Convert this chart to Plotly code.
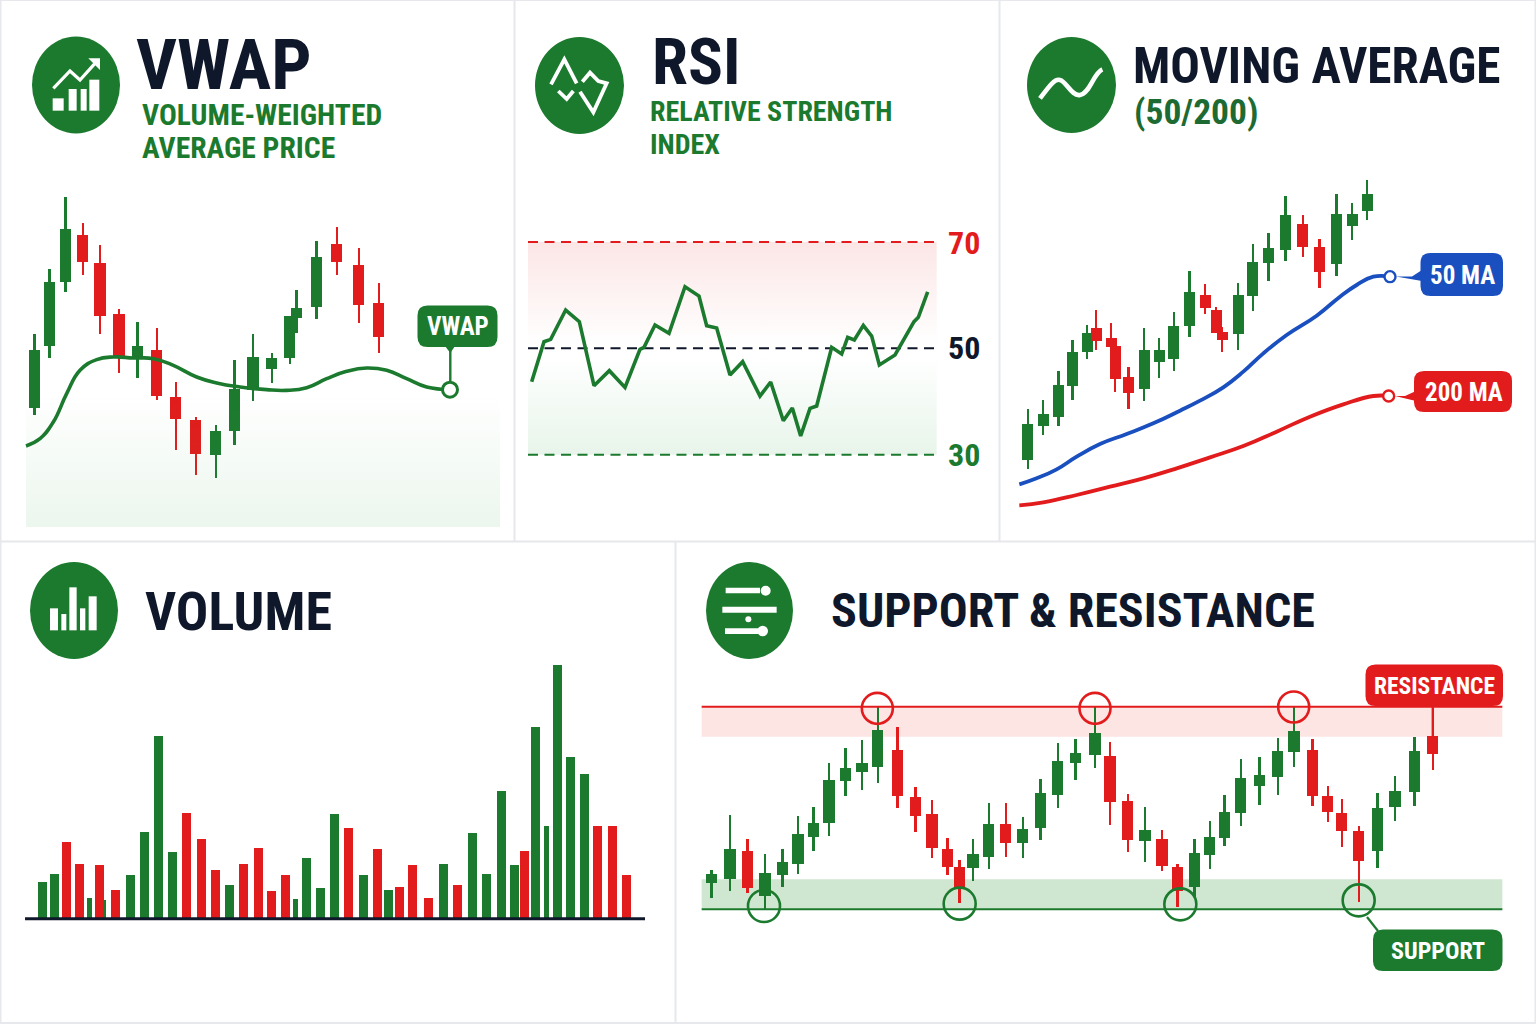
import plotly.graph_objects as go

# ---------- DATA ----------
# VWAP panel
vwap_t = [103,148,196,248,300,357,412,470,527,587,647,703,759,815,869,889,949,1010,1076,1136]
vwap_open = [357,543,735,876,793,638,510,531,390,320,215,287,412,473,507,627,659,848,787,672]
vwap_high = [578,773,990,912,845,655,615,597,434,330,307,502,580,523,633,710,858,901,837,733]
vwap_low = [337,508,705,755,580,463,448,380,230,156,147,245,378,433,488,582,623,757,612,523]
vwap_close = [530,734,894,795,633,510,542,393,325,220,288,413,511,506,633,658,811,796,665,570]
vwap_line_t = [78,120,160,200,240,290,340,400,460,520,590,650,720,800,860,920,980,1040,1100,1160,1220,1280,1350]
vwap_line = [243,265,315,400,470,502,510,507,505,485,450,432,420,412,410,418,445,467,477,470,445,420,412]

# RSI panel
rsi_t = [35,72,92,137,178,222,268,315,360,372,405,447,495,537,560,590,630,668,720,752,790,817,842,870,890,935,965,983,1003,1030,1055,1078,1125,1182,1195,1223]
rsi_val = [43.73,51.25,51.69,57.21,55.02,42.98,45.80,42.66,49.81,50.19,54.39,52.82,61.60,59.84,54.26,53.82,44.98,47.49,41.03,43.67,36.39,38.78,33.51,38.71,39.15,50.19,48.93,52.07,51.57,54.33,52.32,46.87,48.75,55.02,55.83,60.60]
rsi_levels = [70, 50, 30]

# Moving-average panel
ma_t = [53,99,145,187,231,258,303,315,355,402,447,491,538,585,618,636,684,728,775,826,878,928,979,1026,1071]
ma_open = [180,281,310,402,504,575,547,523,428,392,475,483,583,675,630,565,559,673,771,810,887,820,769,881,927]
ma_high = [332,360,447,539,585,630,590,523,460,575,545,625,748,708,638,580,710,828,860,973,914,843,978,951,1020]
ma_low = [154,254,282,360,482,509,520,385,332,358,427,446,548,619,561,505,511,628,717,778,790,695,733,841,901]
ma_close = [287,317,406,505,561,537,520,423,381,511,510,583,685,637,561,540,674,774,817,916,820,745,917,919,977]
ma50_t = [28,80,140,200,270,350,430,510,570,640,700,760,830,920,990,1040,1090,1140]
ma50 = [107,125,152,190,228,258,290,328,358,398,445,500,555,613,670,705,730,730]
ma200_t = [28,100,200,300,400,500,600,700,800,900,1000,1090,1136]
ma200 = [44,53,75,100,125,155,188,222,265,310,347,372,372]

# Volume panel
vol_t = [58,86,116,148,172,197,209,235,272,306,341,376,410,447,481,516,550,585,619,653,676,703,738,772,806,842,877,905,930,963,1001,1039,1074,1109,1144,1180,1212,1238,1265,1291,1317,1350,1383,1416,1452,1486]
vol_val = [110,134,229,163,63,161,56,87,132,259,547,201,317,239,145,101,163,212,83,132,58,183,92,315,271,132,210,86,96,162,62,163,101,257,135,384,161,203,574,278,760,484,435,277,277,132]
vol_side = list("GGRRGRGRGGGGRRRGRRRRGGGGRGRGRRRGRGGGGRGGGGGRRR")

# Support & resistance panel
sr_t = [64,120,172,225,277,324,370,417,466,516,563,622,676,726,772,808,849,896,947,998,1051,1103,1156,1215,1260,1313,1365,1416,1462,1513,1559,1603,1652,1708,1763,1812,1867,1913,1955,2006,2062,2115,2173,2228]
sr_open = [292,302,386,253,315,348,430,471,598,625,639,691,549,498,394,338,336,370,469,411,457,556,650,675,671,536,417,423,338,280,376,425,500,583,608,685,689,551,502,447,386,520,564,732]
sr_high = [330,495,423,377,394,493,519,650,695,720,820,760,580,540,427,360,424,532,532,490,602,710,722,820,713,559,520,450,348,423,477,556,662,668,725,820,723,583,543,463,560,613,730,815]
sr_low = [245,268,262,210,280,317,387,432,552,570,592,515,445,367,315,230,297,332,370,367,420,517,600,635,464,383,353,328,218,250,332,403,463,524,555,640,523,473,398,235,335,478,523,630]
sr_close = [319,393,275,320,353,438,471,600,637,652,750,551,493,395,340,275,377,469,411,452,560,657,680,742,533,419,449,342,268,381,428,505,606,614,688,747,552,504,447,357,517,566,687,679]
sr_resistance = 820
sr_support = 212
sr_band = 90
res_touch_t = [562,1215,1811]
res_touch = [815,815,819]
sup_touch_t = [222,809,1471,2006]
sup_touch = [222,229,227,239]

# ---------- STYLE ----------
W, H = 1536, 1024
GREEN = "#1b7a2e"
RED = "#e21b1c"
BLUE = "#1a4fc0"
NAVY = "#0f172a"
BORDER = "#e6e8ec"
NARROW = "'Roboto Condensed', Roboto, sans-serif"

def fx(x): return x / W
def fy(y): return 1 - y / H

fig = go.Figure()
shapes, annots = [], []

# panel number: (px left, px right, px top, px bottom, x range, y range)
panels = {
    1: (0, 510, 180, 527, [0, 1530], [0, 1041]),
    2: (520, 990, 230, 470, [0, 1410], [27.12, 72.26]),
    3: (1010, 1520, 170, 520, [0, 1530], [0, 1050]),
    4: (18.9, 658.9, 660, 930, [0, 1566], [-34, 776]),
    5: (690, 1520, 660, 980, [0, 2490], [0, 960]),
}
for i, (l, r, t, b, xr, yr) in panels.items():
    s = "" if i == 1 else str(i)
    fig.update_layout({
        f"xaxis{s}": dict(domain=[fx(l), fx(r)], range=xr, visible=False, fixedrange=True, anchor=f"y{s}"),
        f"yaxis{s}": dict(domain=[fy(b), fy(t)], range=yr, visible=False, fixedrange=True, anchor=f"x{s}"),
    })

def ax(i):
    return ("x", "y") if i == 1 else (f"x{i}", f"y{i}")

def candles(i, t, o, h, l, c, body=33, wick=7):
    xa, ya = ax(i)
    colors = [GREEN if cc >= oo else RED for oo, cc in zip(o, c)]
    fig.add_trace(go.Bar(x=t, y=[a - b for a, b in zip(h, l)], base=l, width=wick,
                         marker=dict(color=colors, line=dict(width=0)), xaxis=xa, yaxis=ya, showlegend=False))
    fig.add_trace(go.Bar(x=t, y=[abs(a - b) for a, b in zip(o, c)], base=[min(a, b) for a, b in zip(o, c)], width=body,
                         marker=dict(color=colors, line=dict(width=0)), xaxis=xa, yaxis=ya, showlegend=False))

def end_marker(i, t, v, color, size, lw):
    xa, ya = ax(i)
    fig.add_trace(go.Scatter(x=[t], y=[v], mode="markers", xaxis=xa, yaxis=ya, showlegend=False,
                             marker=dict(size=size, color="white", line=dict(color=color, width=lw))))

def rrect(x0, y0, x1, y1, color, rad=9):
    d = (f"M{fx(x0+rad)},{fy(y0)} L{fx(x1-rad)},{fy(y0)} Q{fx(x1)},{fy(y0)} {fx(x1)},{fy(y0+rad)} "
         f"L{fx(x1)},{fy(y1-rad)} Q{fx(x1)},{fy(y1)} {fx(x1-rad)},{fy(y1)} L{fx(x0+rad)},{fy(y1)} "
         f"Q{fx(x0)},{fy(y1)} {fx(x0)},{fy(y1-rad)} L{fx(x0)},{fy(y0+rad)} Q{fx(x0)},{fy(y0)} {fx(x0+rad)},{fy(y0)} Z")
    shapes.append(dict(type="path", xref="paper", yref="paper", path=d, fillcolor=color, line=dict(width=0), layer="above"))

def poly(pts, color, width=0, closed=False, fill=None):
    d = "M" + " L".join(f"{fx(a)},{fy(b)}" for a, b in pts) + (" Z" if closed else "")
    shapes.append(dict(type="path", xref="paper", yref="paper", path=d, fillcolor=fill or "rgba(0,0,0,0)",
                       line=dict(color=color, width=width), layer="above"))

def box(x0, y0, x1, y1, color="white"):
    shapes.append(dict(type="rect", xref="paper", yref="paper", x0=fx(x0), x1=fx(x1), y0=fy(y0), y1=fy(y1),
                       fillcolor=color, line=dict(width=0), layer="above"))

def disc(cx, cy, rx, ry, color="white"):
    shapes.append(dict(type="circle", xref="paper", yref="paper", x0=fx(cx-rx), x1=fx(cx+rx), y0=fy(cy+ry), y1=fy(cy-ry),
                       fillcolor=color, line=dict(width=0), layer="above"))

def text(s, x, y, size, color=NAVY, family=NARROW, anchor="left", weight=700):
    annots.append(dict(text=s, x=fx(x), y=fy(y), xref="paper", yref="paper", xanchor=anchor, yanchor="middle",
                       showarrow=False, font=dict(family=family, size=size, color=color, weight=weight)))

def grad_fill(i, xs, ys, c0, c1, lo, hi):
    xa, ya = ax(i)
    fig.add_trace(go.Scatter(x=xs, y=ys, mode="lines", line=dict(width=0), fill="toself",
                             fillgradient=dict(type="vertical", start=lo, stop=hi, colorscale=[[0, c0], [1, c1]]),
                             xaxis=xa, yaxis=ya, showlegend=False, hoverinfo="skip"))

# ---------- borders ----------
for x0, y0, x1, y1 in [(0,0,1536,0),(0,541.5,1536,541.5),(514.5,0,514.5,541),(999.5,0,999.5,541),(675.5,542,675.5,1024),(0,1023,1536,1023),(0.5,0,0.5,1024),(1535.5,0,1535.5,1024)]:
    shapes.append(dict(type="line", xref="paper", yref="paper", x0=fx(x0), x1=fx(x1), y0=fy(y0), y1=fy(y1),
                       line=dict(color=BORDER, width=2), layer="below"))

# ---------- VWAP panel ----------
grad_fill(1, [78,1500,1500,78], [0,0,400,400], "rgba(60,170,80,0.10)", "rgba(60,170,80,0)", 0, 400)
candles(1, vwap_t, vwap_open, vwap_high, vwap_low, vwap_close, body=34)
fig.add_trace(go.Scatter(x=vwap_line_t, y=vwap_line, mode="lines", line=dict(color=GREEN, width=3.6, shape="spline", smoothing=1.3), showlegend=False))
poly([(450.3,346),(450.3,381)], GREEN, 2.4)
poly([(445,346),(455,346),(450.3,353)], GREEN, 0, True, GREEN)
end_marker(1, vwap_line_t[-1], vwap_line[-1], GREEN, 15, 3)
rrect(417.5,305.5,497.5,347, GREEN, 10)
text("VWAP", 457.5, 326.5, 25, "white", anchor="center")

# ---------- RSI panel ----------
grad_fill(2, [24,1250,1250,24], [70,70,50.5,50.5], "rgba(226,27,28,0)", "rgba(226,27,28,0.11)", 50.5, 70)
grad_fill(2, [24,1250,1250,24], [48.5,48.5,30,30], "rgba(60,170,80,0.12)", "rgba(60,170,80,0)", 30, 48.5)
for lv, col in zip(rsi_levels, [RED, NAVY, GREEN]):
    fig.add_trace(go.Scatter(x=[24,1250], y=[lv,lv], mode="lines", xaxis="x2", yaxis="y2",
                             line=dict(color=col, width=2, dash="10px,6.5px"), showlegend=False))
fig.add_trace(go.Scatter(x=rsi_t, y=rsi_val, mode="lines", xaxis="x2", yaxis="y2",
                         line=dict(color=GREEN, width=3.6), showlegend=False))
text(str(rsi_levels[0]), 945.5, 243, 32, RED)
text(str(rsi_levels[1]), 945.5, 348, 32, NAVY)
text(str(rsi_levels[2]), 945.5, 455, 32, GREEN)

# ---------- Moving-average panel ----------
candles(3, ma_t, ma_open, ma_high, ma_low, ma_close)
fig.add_trace(go.Scatter(x=ma50_t, y=ma50, mode="lines", xaxis="x3", yaxis="y3",
                         line=dict(color=BLUE, width=3.8, shape="spline", smoothing=1.3), showlegend=False))
fig.add_trace(go.Scatter(x=ma200_t, y=ma200, mode="lines", xaxis="x3", yaxis="y3",
                         line=dict(color=RED, width=3.8, shape="spline", smoothing=1.3), showlegend=False))
end_marker(3, ma50_t[-1], ma50[-1], BLUE, 11, 2.4)
end_marker(3, ma200_t[-1], ma200[-1], RED, 11, 2.4)
poly([(1396,276.5),(1412,276.5),(1422,270),(1422,281)], BLUE, 0, True, BLUE)
rrect(1420.5,253,1503,296, BLUE, 10)
text("50 MA", 1462, 275.5, 25, "white", anchor="center")
poly([(1395,396),(1405,396),(1416,391),(1416,401)], RED, 0, True, RED)
rrect(1414,371,1512,412, RED, 10)
text("200 MA", 1463.5, 392, 25, "white", anchor="center")

# ---------- Volume panel ----------
narrow_bars = {172: 13, 209: 6, 676: 13, 1291: 13}
fig.add_trace(go.Bar(x=vol_t, y=vol_val, width=[narrow_bars.get(t, 22) for t in vol_t],
                     marker=dict(color=[GREEN if s == "G" else RED for s in vol_side], line=dict(width=0)),
                     xaxis="x4", yaxis="y4", showlegend=False))
fig.add_trace(go.Scatter(x=[15,1532], y=[0,0], mode="lines", xaxis="x4", yaxis="y4",
                         line=dict(color=NAVY, width=3), showlegend=False))

# ---------- Support & resistance panel ----------
shapes.append(dict(type="rect", xref="x5", yref="y5", x0=35, x1=2437, y0=sr_resistance-sr_band, y1=sr_resistance,
                   fillcolor="#fde5e4", line=dict(width=0), layer="below"))
shapes.append(dict(type="rect", xref="x5", yref="y5", x0=35, x1=2437, y0=sr_support, y1=sr_support+sr_band,
                   fillcolor="#cfe6d0", line=dict(width=0), layer="below"))
candles(5, sr_t, sr_open, sr_high, sr_low, sr_close, body=34)
fig.add_trace(go.Scatter(x=[35,2437], y=[sr_resistance]*2, mode="lines", xaxis="x5", yaxis="y5", line=dict(color=RED, width=2), showlegend=False))
fig.add_trace(go.Scatter(x=[35,2437], y=[sr_support]*2, mode="lines", xaxis="x5", yaxis="y5", line=dict(color=GREEN, width=2), showlegend=False))
fig.add_trace(go.Scatter(x=res_touch_t, y=res_touch, mode="markers", xaxis="x5", yaxis="y5",
                         marker=dict(symbol="circle-open", size=31, color=RED, line=dict(color=RED, width=2.6)), showlegend=False))
fig.add_trace(go.Scatter(x=sup_touch_t, y=sup_touch, mode="markers", xaxis="x5", yaxis="y5",
                         marker=dict(symbol="circle-open", size=32, color=GREEN, line=dict(color=GREEN, width=2.6)), showlegend=False))
poly([(1432.7,705),(1432.7,737)], RED, 2.2)
rrect(1365.5,664.5,1503,706, RED, 10)
text("RESISTANCE", 1434.5, 685.5, 23.5, "white", anchor="center")
poly([(1367,917),(1378,931)], GREEN, 2.2)
rrect(1373,929.5,1502.5,971, GREEN, 10)
text("SUPPORT", 1437.5, 950.5, 24, "white", anchor="center")

# ---------- titles ----------
text("VWAP", 134, 64, 71)
text("VOLUME-WEIGHTED", 140, 114.5, 29.6, GREEN)
text("AVERAGE PRICE", 140, 147.5, 29.6, GREEN)
text("RSI", 650, 62, 65)
text("RELATIVE STRENGTH", 648, 111, 28, GREEN)
text("INDEX", 648, 144.5, 28, GREEN)
text("MOVING AVERAGE", 1131, 66, 49.2)
text("(50/200)", 1132, 112, 35.5, "#1d6b33")
text("VOLUME", 143, 611, 54)
text("SUPPORT &amp; RESISTANCE", 829, 610, 48)

# ---------- icons ----------
for cx, cy, rx, ry in [(76,85,44,48.5),(579.5,85.5,44.5,48.5),(1071.5,85,44.5,48),(74,610.5,44,48.5),(749.5,610.5,43.5,48.5)]:
    disc(cx, cy, rx, ry, GREEN)
# VWAP icon
for a, b, c, d in [(98,220,131,257),(146,192,170,257),(182,192,200,257),(208,164,238,257)]:
    box(20+a/3, 25+b/3, 20+c/3, 25+d/3)
poly([(20+100/3,25+190/3),(20+150/3,25+138/3),(20+180/3,25+165/3),(20+225/3,25+115/3)], "white", 3.2)
poly([(20+205/3,25+100/3),(20+240/3,25+100/3),(20+240/3,25+135/3)], "white", 0, True, "white")
# RSI icon
for seg in [[(78,178),(118,103),(155,175)], [(100,198),(125,222),(145,198)],
            [(172,170),(195,143),(220,168),(245,175),(205,262),(165,200)]]:
    poly([(525+a/3, 25+b/3) for a, b in seg], "white", 3.8)
# MA icon
P = lambda a, b: f"{fx(1015+a/3)},{fy(30+b/3)}"
shapes.append(dict(type="path", xref="paper", yref="paper", layer="above", fillcolor="rgba(0,0,0,0)",
                   path=f"M{P(75,205)} C{P(105,165)} {P(120,145)} {P(135,150)} C{P(155,155)} {P(170,200)} {P(195,195)} C{P(225,190)} {P(235,130)} {P(262,118)}",
                   line=dict(color="white", width=4.6)))
# Volume icon
for a, b, c, d in [(90,160,114,226),(124,177,139,226),(148,97,170,226),(180,160,196,226),(206,124,230,226)]:
    box(20+a/3, 555+b/3, 20+c/3, 555+d/3)
# S&R icon
for a, b, c, d in [(92,98,195,115),(82,155,245,173),(90,220,190,237)]:
    box(695+a/3, 555+b/3, 695+c/3, 555+d/3)
for a, b, r in [(212,107,15),(160,193,9),(203,228,16)]:
    disc(695+a/3, 555+b/3, r/3, r/3)

fig.update_layout(width=W, height=H, autosize=False, margin=dict(l=0, r=0, t=0, b=0, pad=0),
                  paper_bgcolor="white", plot_bgcolor="rgba(0,0,0,0)", barmode="overlay", bargap=0,
                  showlegend=False, shapes=shapes, annotations=annots, hovermode=False)

fig.write_html("out.html", config={"displayModeBar": False},
               post_script="document.body.style.margin='0';document.documentElement.style.overflow='hidden';")
